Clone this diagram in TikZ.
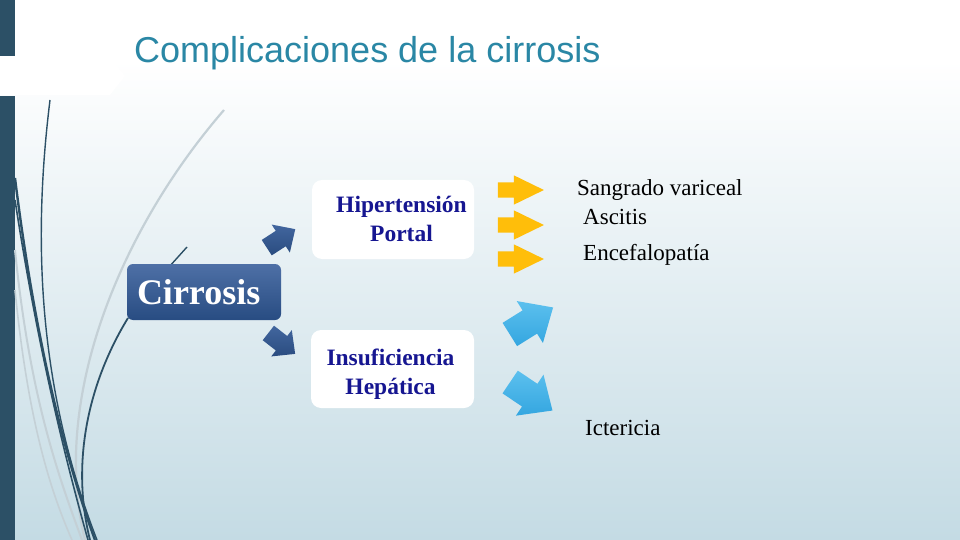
\documentclass[tikz,border=0pt]{standalone}
\usepackage{fontspec}
\setmainfont{Liberation Serif}
\newfontfamily\titlefont{Liberation Sans}
\usetikzlibrary{shapes.arrows}
\definecolor{barblue}{RGB}{44,80,102}
\definecolor{titlecol}{RGB}{42,135,165}
\definecolor{bgmid}{RGB}{226,237,241}
\definecolor{bgbot}{RGB}{196,219,228}
\definecolor{curvegrey}{RGB}{196,208,214}
\definecolor{cirtop}{RGB}{78,112,166}
\definecolor{cirbot}{RGB}{40,76,130}
\definecolor{navytext}{RGB}{22,22,145}
\definecolor{arrowyellow}{RGB}{255,190,10}
\definecolor{darktop}{RGB}{66,102,158}
\definecolor{darkbot}{RGB}{42,76,128}
\definecolor{lighttop}{RGB}{92,192,238}
\definecolor{lightbot}{RGB}{52,166,224}
\tikzset{
  whitebox/.style={draw=none, fill=white, rounded corners=10pt, inner sep=0pt},
  cirbox/.style={draw=none, top color=cirtop, bottom color=cirbot, rounded corners=6pt,
    minimum width=154pt, minimum height=56pt, text width=134pt, align=left, inner sep=0pt,
    text=white, font=\bfseries\fontsize{36}{40}\selectfont},
  bluetxt/.style={inner sep=0pt, align=center, text=navytext, font=\bfseries\fontsize{23.5}{28.5}\selectfont},
  blacktxt/.style={inner sep=0pt, anchor=base west, text=black, font=\fontsize{23}{27}\selectfont},
  yarrow/.style={single arrow, draw=none, fill=arrowyellow, inner xsep=0pt, inner ysep=7.5pt,
    minimum height=46pt, single arrow head extend=7pt, single arrow tip angle=52},
  darrow/.style={single arrow, draw=none, top color=darktop, bottom color=darkbot, inner xsep=0pt, inner ysep=9pt,
    minimum height=34pt, single arrow head extend=7.5pt, single arrow tip angle=88},
  larrow/.style={single arrow, draw=none, top color=lighttop, bottom color=lightbot, inner xsep=0pt, inner ysep=13.5pt,
    minimum height=51pt, single arrow head extend=11pt, single arrow tip angle=84},
}
\begin{document}
\begin{tikzpicture}[x=1pt,y=-1pt]
\useasboundingbox (0,0) rectangle (960,540);
% background
\fill[white] (0,0) rectangle (960,60);
\shade[top color=white, middle color=bgmid, bottom color=bgbot] (0,60) rectangle (960,540);
% left bar with tab gap
\fill[barblue] (0,0) rectangle (15,56);
\fill[barblue] (0,96) rectangle (15,540);
\fill[white] (15,57) -- (110,57) -- (125,76) -- (110,95) -- (15,95) -- cycle;
\fill[white] (0,57) rectangle (15,95);
% decorative curves
\draw[curvegrey, line width=2.2pt] (224,110) .. controls (120,230) and (50,400) .. (85,540);
\draw[curvegrey, line width=2pt] (15,250) .. controls (30,400) and (60,480) .. (82,540);
\draw[curvegrey, line width=1.6pt] (15,290) .. controls (28,420) and (50,490) .. (72,540);
\draw[barblue, line width=1.4pt] (50,100) .. controls (34,230) and (35,380) .. (97,540);
\draw[barblue, line width=2.4pt] (15,178) .. controls (30,300) and (55,430) .. (95,540);
\draw[barblue, line width=1.6pt] (15,200) .. controls (35,330) and (60,440) .. (88,540);
\draw[barblue, line width=1.8pt] (128,318) .. controls (90,380) and (70,460) .. (90,540);
\draw[barblue, line width=1.4pt] (187,247) -- (160,277);
% title
\node[anchor=base west, inner sep=0pt, text=titlecol, font=\titlefont\fontsize{36}{40}\selectfont] (title) at (134,63) {Complicaciones de la cirrosis};
% main boxes
\node[cirbox] (cir) at (204,292) {Cirrosis};
\node[whitebox, minimum width=162pt, minimum height=79pt] (hp) at (393,219.5) {};
\node[bluetxt] (hptext) at (401.5,219) {Hipertensión\\Portal};
\node[whitebox, minimum width=163pt, minimum height=78pt] (ih) at (392.5,369) {};
\node[bluetxt] (ihtext) at (390.5,374) {Insuficiencia\\Hepática};
% block arrows
\node[darrow, rotate=33] (d1) at (277,241) {};
\node[darrow, rotate=-38] (d2) at (278,340.5) {};
\node[yarrow] (y1) at (513,190) {};
\node[yarrow] (y2) at (513,225) {};
\node[yarrow] (y3) at (513,259) {};
\node[larrow, rotate=32] (l1) at (525,325) {};
\node[larrow, rotate=-34] (l2) at (525,392) {};
% complications
\node[blacktxt] (sv) at (577,195) {Sangrado variceal};
\node[blacktxt] (as) at (583,224) {Ascitis};
\node[blacktxt] (en) at (583,260) {Encefalopatía};
\node[blacktxt] (ic) at (585,435) {Ictericia};
\end{tikzpicture}
\end{document}
